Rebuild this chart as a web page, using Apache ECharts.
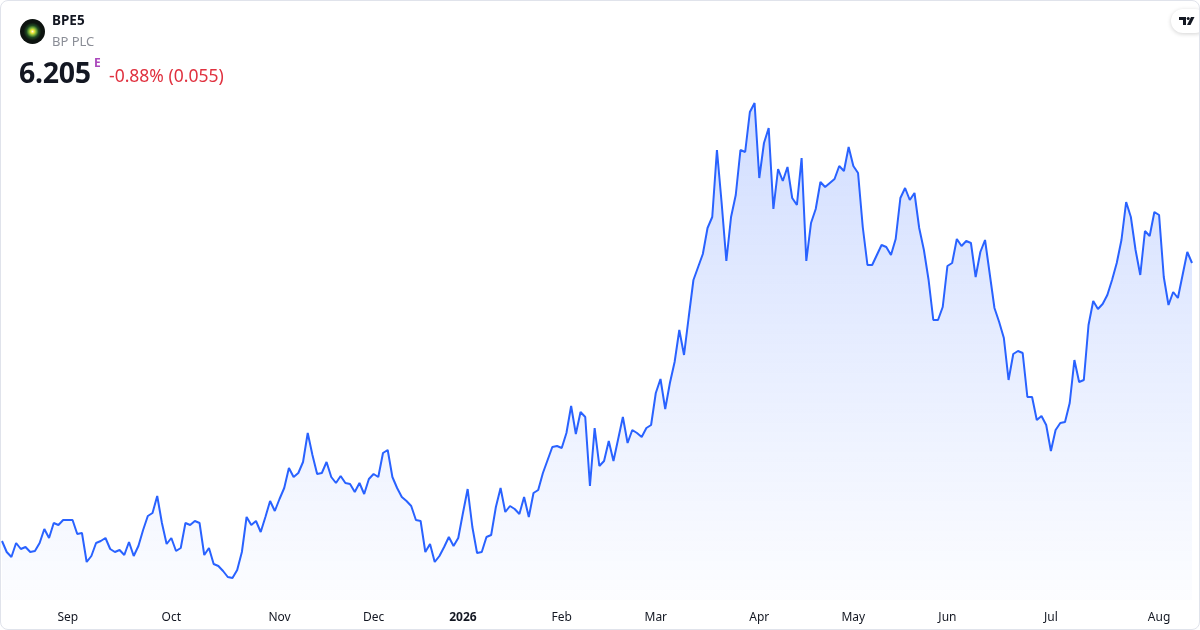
<!DOCTYPE html>
<html>
<head>
<meta charset="utf-8">
<script src="https://cdn.jsdelivr.net/npm/echarts@6/dist/echarts.min.js"></script>
<style>
  html, body { margin: 0; padding: 0; background: #fff; }
  #wrap { position: relative; width: 1200px; height: 630px; box-sizing: border-box; border: 1px solid #e0e3eb; border-radius: 8px; overflow: hidden; font-family: "Noto Sans", Roboto, sans-serif; }
  #chart { position: absolute; left: 0; top: 0; width: 1198px; height: 628px; }
  .hdr { position: absolute; white-space: nowrap; }
  #logo { position: absolute; left: 19px; top: 18px; width: 25px; height: 25px; border-radius: 50%;
          background: radial-gradient(circle, #fffbe0 0%, #f0e43a 10%, #7fb83a 20%, #1f4a22 34%, #0d1510 50%, #0a0c0b 100%); }
  #tv { position: absolute; right: -8px; top: 8px; width: 36px; height: 24px; background: #fff; border-radius: 12px;
        box-shadow: 0 1px 4px rgba(0,0,0,0.18); }
</style>
</head>
<body>
<div id="wrap">
  <div id="chart"></div>
  <div id="logo"></div>
  <div class="hdr" style="left:51px; top:10px; font-size:13.5px; font-weight:700; color:#131722;">BPE5</div>
  <div class="hdr" style="left:51px; top:31px; font-size:13px; color:#8a8d96;">BP PLC</div>
  <div class="hdr" style="left:18px; top:52px; font-size:28.5px; font-weight:700; color:#131722; letter-spacing:-0.3px;">6.205</div>
  <div class="hdr" style="left:93px; top:53px; font-size:12px; font-weight:700; color:#ab47bc;">E</div>
  <div class="hdr" style="left:108px; top:62px; font-size:17.5px; color:#e0313f;">-0.88% (0.055)</div>
  <div id="tv">
    <svg width="24" height="24" viewBox="0 0 24 24" style="position:absolute; left:4px; top:0;">
      <path d="M4 8 H11 V16 H8 V11 H4 Z" fill="#131722"/>
      <circle cx="13.2" cy="9.5" r="1.5" fill="#131722"/>
      <path d="M16 8 H19.5 L15.5 16 H12 Z" fill="#131722"/>
    </svg>
  </div>
</div>
<script>
const values = [
  4.537, 4.471, 4.441, 4.525, 4.489, 4.501, 4.471, 4.477, 4.525, 4.609,
  4.555, 4.645, 4.633, 4.663, 4.663, 4.663, 4.579, 4.585, 4.411, 4.447,
  4.525, 4.537, 4.555, 4.489, 4.471, 4.483, 4.453, 4.531, 4.447, 4.507,
  4.603, 4.687, 4.705, 4.807, 4.645, 4.519, 4.555, 4.477, 4.495, 4.645,
  4.633, 4.657, 4.645, 4.453, 4.495, 4.399, 4.387, 4.357, 4.321, 4.315,
  4.363, 4.471, 4.681, 4.633, 4.657, 4.591, 4.681, 4.777, 4.717, 4.789,
  4.855, 4.975, 4.921, 4.945, 5.011, 5.185, 5.053, 4.939, 4.945, 5.011,
  4.921, 4.885, 4.927, 4.885, 4.879, 4.831, 4.885, 4.819, 4.909, 4.939,
  4.921, 5.065, 5.083, 4.921, 4.855, 4.801, 4.777, 4.747, 4.663, 4.657,
  4.471, 4.519, 4.411, 4.447, 4.501, 4.561, 4.507, 4.555, 4.705, 4.849,
  4.621, 4.465, 4.471, 4.561, 4.573, 4.741, 4.855, 4.711, 4.747, 4.729,
  4.699, 4.801, 4.681, 4.825, 4.843, 4.945, 5.023, 5.101, 5.107, 5.095,
  5.185, 5.347, 5.179, 5.311, 5.281, 4.867, 5.215, 4.987, 5.017, 5.137,
  5.017, 5.149, 5.281, 5.125, 5.203, 5.185, 5.161, 5.215, 5.233, 5.425,
  5.509, 5.329, 5.485, 5.611, 5.803, 5.653, 5.881, 6.103, 6.181, 6.259,
  6.415, 6.481, 6.883, 6.565, 6.217, 6.481, 6.613, 6.883, 6.871, 7.111,
  7.165, 6.715, 6.925, 7.015, 6.529, 6.769, 6.697, 6.781, 6.595, 6.553,
  6.835, 6.217, 6.445, 6.529, 6.691, 6.661, 6.685, 6.709, 6.787, 6.757,
  6.901, 6.787, 6.745, 6.421, 6.193, 6.193, 6.253, 6.313, 6.301, 6.253,
  6.349, 6.595, 6.655, 6.583, 6.625, 6.415, 6.283, 6.103, 5.863, 5.863,
  5.941, 6.187, 6.205, 6.349, 6.307, 6.337, 6.325, 6.121, 6.271, 6.343,
  6.139, 5.935, 5.851, 5.755, 5.503, 5.659, 5.677, 5.665, 5.401, 5.401,
  5.263, 5.287, 5.233, 5.077, 5.203, 5.245, 5.251, 5.365, 5.623, 5.491,
  5.503, 5.833, 5.977, 5.929, 5.959, 6.013, 6.103, 6.205, 6.343, 6.571,
  6.481, 6.283, 6.133, 6.397, 6.367, 6.511, 6.493, 6.121, 5.953, 6.031,
  5.995, 6.133, 6.271, 6.205
];
const monthLabelIdx = [14, 36, 59, 79, 98, 119, 139, 161, 181, 201, 223, 246];
const monthLabelText = ['Sep', 'Oct', 'Nov', 'Dec', '2026', 'Feb', 'Mar', 'Apr', 'May', 'Jun', 'Jul', 'Aug'];
const boldLabels = ['2026'];
const categories = values.map((_, i) => String(i));

const chart = echarts.init(document.getElementById('chart'), null, { renderer: 'canvas' });
chart.setOption({
  animation: false,
  grid: { left: 1, right: 7, top: 99, bottom: 29 },
  xAxis: {
    type: 'category',
    data: categories,
    boundaryGap: false,
    axisLine: { show: false },
    axisTick: { show: false },
    splitLine: { show: false },
    axisLabel: {
      interval: (idx) => monthLabelIdx.indexOf(idx) >= 0,
      margin: 12,
      fontSize: 12,
      color: '#131722',
      fontFamily: '"Noto Sans", Roboto, sans-serif',
      formatter: (v, idx) => {
        const k = monthLabelIdx.indexOf(Number(v));
        if (k < 0) return '';
        const t = monthLabelText[k];
        return boldLabels.indexOf(t) >= 0 ? '{b|' + t + '}' : t;
      },
      rich: { b: { fontWeight: 'bold', fontSize: 12, color: '#131722' } }
    }
  },
  yAxis: { type: 'value', min: 4.183, max: 7.183, show: false, splitLine: { show: false } },
  series: [{
    type: 'line',
    data: values,
    showSymbol: false,
    smooth: false,
    lineStyle: { color: '#2962ff', width: 2 },
    itemStyle: { color: '#2962ff' },
    areaStyle: {
      color: new echarts.graphic.LinearGradient(0, 0, 0, 1, [
        { offset: 0, color: 'rgba(41,98,255,0.30)' },
        { offset: 1, color: 'rgba(41,98,255,0.02)' }
      ])
    }
  }]
});
</script>
</body>
</html>
